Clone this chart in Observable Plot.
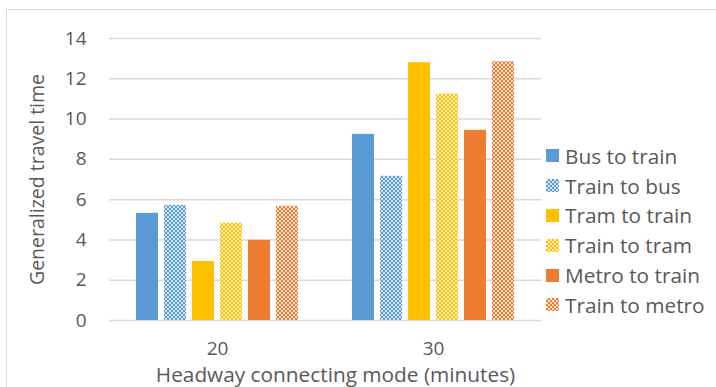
<!DOCTYPE html>
<html>
<head>
<meta charset="utf-8">
<script src="https://cdn.jsdelivr.net/npm/d3@7"></script>
<script src="https://cdn.jsdelivr.net/npm/@observablehq/plot@0.6"></script>
<style>
  html, body { margin: 0; padding: 0; background: #fff; overflow: hidden; }
  #wrap { position: relative; width: 716px; height: 387px; overflow: hidden; font-family: "Open Sans", sans-serif; }
  #frame { position: absolute; left: 6px; top: 9px; width: 760px; height: 420px; border: 1.5px solid #d9d9d9; box-sizing: border-box; pointer-events: none; }
  #chart { position: absolute; left: 0; top: 0; }
  #legend { position: absolute; left: 546px; top: 141px; color: #595959; font-size: 20.8px; }
  .row { height: 29.8px; display: flex; align-items: center; white-space: nowrap; }
  .sw { width: 13px; height: 13px; margin-right: 6px; flex: none; }
</style>
</head>
<body>
<div id="wrap">
  <div id="frame"></div>
  <div id="chart"></div>
  <div id="legend"></div>
</div>
<script>
const groups = ["20", "30"];
const series = ["Bus to train", "Train to bus", "Tram to train", "Train to tram", "Metro to train", "Train to metro"];
const values20 = [5.32, 5.72, 2.93, 4.83, 3.98, 5.67];
const values30 = [9.24, 7.16, 12.8, 11.24, 9.44, 12.85];
const yTicks = [0, 2, 4, 6, 8, 10, 12, 14];
const baseColors = ["#5B9BD5", "#5B9BD5", "#FFC000", "#FFC000", "#ED7D31", "#ED7D31"];
const patterned = [false, true, false, true, false, true];

const fills = series.map((s, i) => patterned[i] ? `url(#pat${i})` : baseColors[i]);

const data = [];
groups.forEach((g, gi) => {
  const vals = gi === 0 ? values20 : values30;
  series.forEach((s, i) => data.push({group: g, series: s, value: vals[i]}));
});

const chart = Plot.plot({
  width: 716,
  height: 387,
  marginLeft: 108,
  marginRight: 175,
  marginTop: 38,
  marginBottom: 67,
  style: {fontFamily: "'Open Sans', sans-serif", fontSize: "19px", color: "#595959", background: "transparent"},
  fx: {domain: groups, padding: 0, tickSize: 0, tickPadding: 21, label: "Headway connecting mode (minutes)", labelAnchor: "center", labelOffset: 61.5, labelArrow: "none"},
  x: {domain: series, paddingInner: 0.22, paddingOuter: 0.87, axis: null},
  y: {domain: [0, 14], ticks: yTicks, tickSize: 0, tickPadding: 23, label: "Generalized travel time", labelAnchor: "center", labelOffset: 79, labelArrow: "none"},
  color: {domain: series, range: fills},
  marks: [
    Plot.ruleY(yTicks, {stroke: "#d9d9d9", strokeWidth: 1.5}),
    Plot.barY(data, {fx: "group", x: "series", y: "value", fill: "series"})
  ]
});

// per-text sizes and small position nudge of the x title
d3.select(chart).selectAll('[aria-label="fx-axis label"] text').style("font-size", "20.8px").attr("dx", 10);
d3.select(chart).selectAll('[aria-label="y-axis label"] text').style("font-size", "19.5px");

// pattern definitions
const defs = d3.select(chart).insert("defs", ":first-child");
series.forEach((s, i) => {
  if (!patterned[i]) return;
  const c = d3.color(baseColors[i]);
  const light = d3.interpolateRgb(baseColors[i], "#ffffff")(0.75);
  const p = defs.append("pattern").attr("id", `pat${i}`).attr("patternUnits", "userSpaceOnUse")
    .attr("width", 4).attr("height", 4);
  p.append("rect").attr("width", 4).attr("height", 4).attr("fill", light);
  p.append("rect").attr("x", 0).attr("y", 0).attr("width", 2).attr("height", 2).attr("fill", c.formatHex());
  p.append("rect").attr("x", 2).attr("y", 2).attr("width", 2).attr("height", 2).attr("fill", c.formatHex());
});

document.getElementById("chart").appendChild(chart);

// legend
const legend = d3.select("#legend");
series.forEach((s, i) => {
  const row = legend.append("div").attr("class", "row");
  const sw = row.append("div").attr("class", "sw");
  if (patterned[i]) {
    const light = d3.interpolateRgb(baseColors[i], "#ffffff")(0.75);
    sw.style("background-color", light)
      .style("background-image", `conic-gradient(${baseColors[i]} 25%, transparent 0 50%, ${baseColors[i]} 0 75%, transparent 0)`)
      .style("background-size", "4px 4px");
  } else {
    sw.style("background", baseColors[i]);
  }
  row.append("span").text(s);
});
</script>
</body>
</html>
